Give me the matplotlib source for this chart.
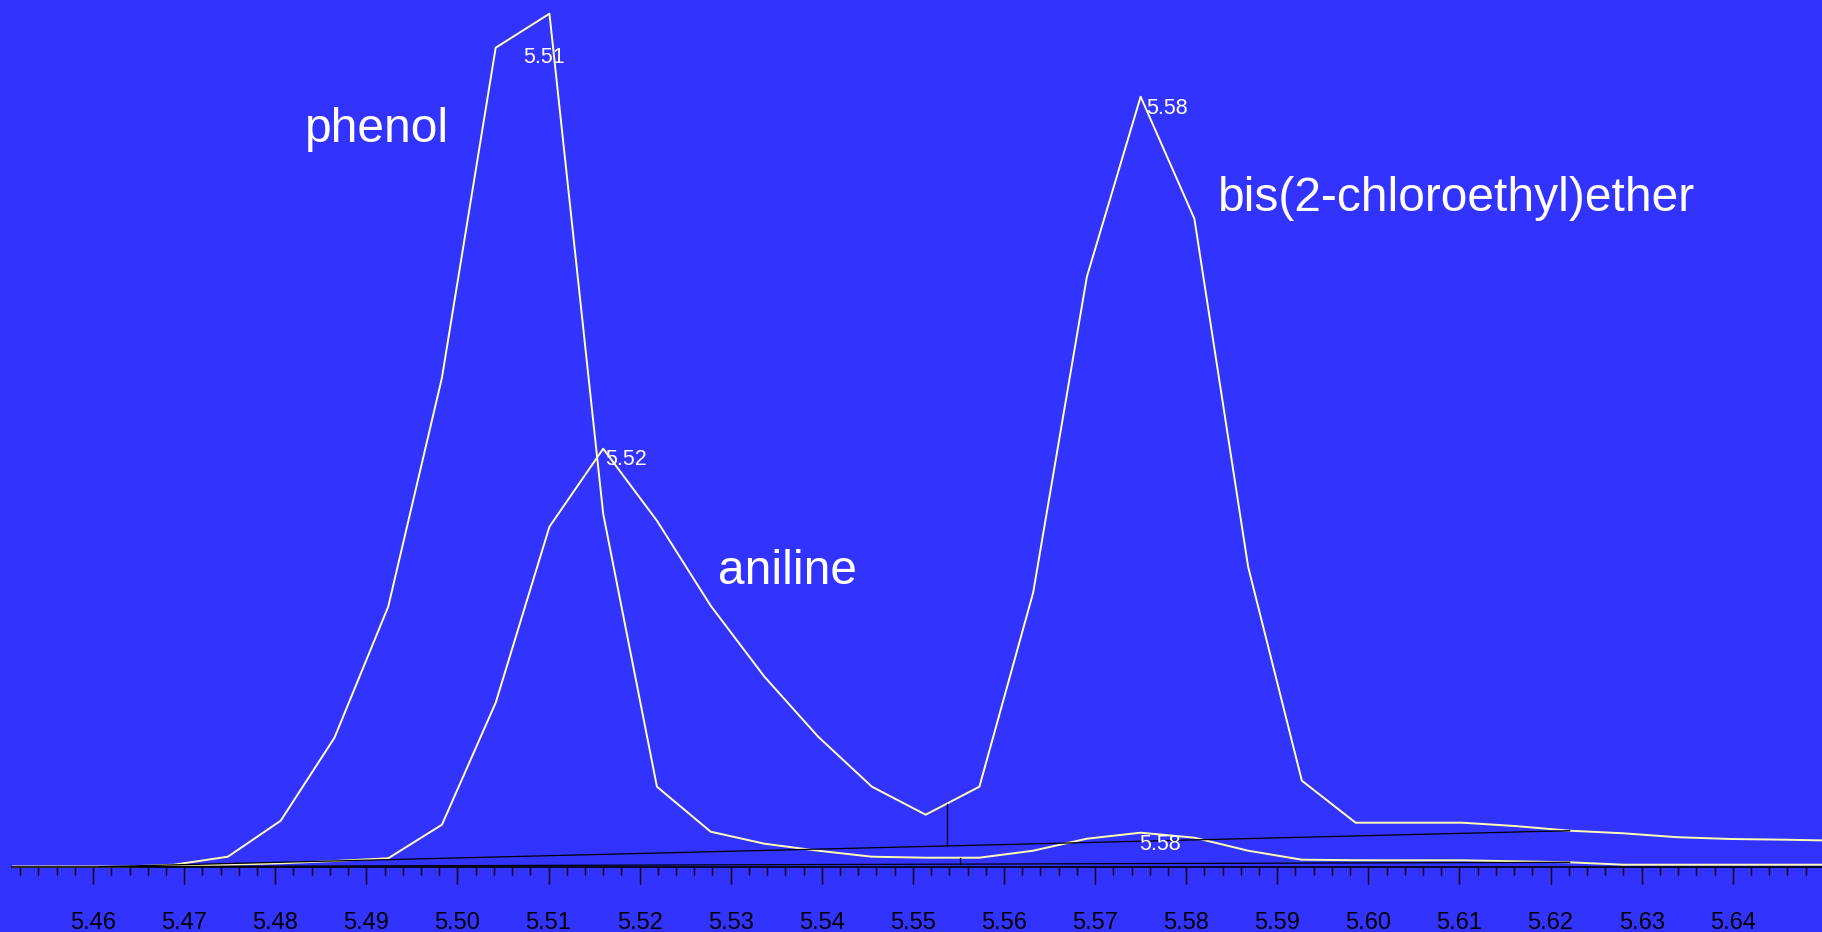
import numpy as np
import matplotlib
matplotlib.use("Agg")
import matplotlib.pyplot as plt
from matplotlib.ticker import MultipleLocator, FormatStrFormatter

# retention time (min) of each scan
times = [5.4512, 5.4571, 5.4630, 5.4689, 5.4748, 5.4806, 5.4865, 5.4924, 5.4983,
         5.5042, 5.5101, 5.5160, 5.5219, 5.5278, 5.5337, 5.5396, 5.5455, 5.5514,
         5.5573, 5.5632, 5.5691, 5.5750, 5.5809, 5.5868, 5.5927, 5.5986, 5.6044,
         5.6103, 5.6162, 5.6221, 5.6280, 5.6339, 5.6398, 5.6457, 5.6516]

# trace 1: phenol + small bump
trace_a = [0, 0, 0, 2, 10, 46, 129, 260, 489, 819, 853, 353, 80, 35, 23, 16, 10,
           9, 9, 16, 28, 34, 29, 16, 7, 6.5, 6.4, 6.4, 5.4, 4.4, 2, 2, 2, 2, 2]

# trace 2: aniline + bis(2-chloroethyl)ether
trace_b = [0, 0, 0, 1, 2, 3.4, 5.7, 8.4, 42, 164, 340, 418, 346, 261, 190, 130,
           80, 52, 80, 274, 590, 770, 648, 300, 86, 44, 44, 44, 40.6, 36, 33.4,
           29.5, 27.7, 27, 26]

# integration baselines (start / end) and valley drop lines
base_t = [5.4607, 5.6221]
base_a = [0, 4.4]
base_b = [0, 36]
split_a = 5.5552
split_b = 5.5537

# peak labels: text, trace, apex index, offset (px)
peak_text = ["5.51", "5.52", "5.58", "5.58"]
peak_trace = ["a", "b", "b", "a"]
peak_idx = [10, 11, 21, 21]
peak_off = [(-26, -49), (2, -16), (6, -17), (-1, -17)]

names = ["phenol", "aniline", "bis(2-chloroethyl)ether"]
name_t = [5.4833, 5.5286, 5.5835]
name_y = [725, 283, 656]

bg = "#3333ff"
line_col = "#ffffb4"

fig = plt.figure(figsize=(18.22, 9.32), dpi=100, facecolor=bg)
ax = fig.add_axes([12 / 1822, 65.3 / 932, 1 - 12 / 1822, 866.7 / 932])
ax.set_facecolor(bg)

ax.plot(times, trace_a, color=line_col, lw=1.4, clip_on=False, zorder=2)
ax.plot(times, trace_b, color=line_col, lw=1.4, clip_on=False, zorder=2)

ax.plot(base_t, base_a, color="black", lw=0.9, zorder=3)
ax.plot(base_t, base_b, color="black", lw=0.9, zorder=3)
for s, tr, bs in [(split_a, trace_a, base_a), (split_b, trace_b, base_b)]:
    top = np.interp(s, times, tr)
    bot = np.interp(s, base_t, bs)
    ax.plot([s, s], [bot, top], color="black", lw=0.9, zorder=3)

traces = {"a": trace_a, "b": trace_b}
for txt, tr, i, off in zip(peak_text, peak_trace, peak_idx, peak_off):
    ax.annotate(txt, (times[i], traces[tr][i]), xytext=off,
                textcoords="offset pixels", ha="left", va="baseline",
                color="white", fontsize=15.5, family="Liberation Sans", zorder=4)

for n, t, y in zip(names, name_t, name_y):
    ax.text(t, y, n, color="white", fontsize=34.5, family="Liberation Sans",
            ha="left", va="baseline")

ax.set_xlim(5.4511, 5.6498)
ax.set_ylim(0, 866.7)

for side in ["top", "left", "right"]:
    ax.spines[side].set_visible(False)
ax.spines["bottom"].set_color("black")
ax.spines["bottom"].set_linewidth(1.2)
ax.set_yticks([])

ax.xaxis.set_major_locator(MultipleLocator(0.01))
ax.xaxis.set_minor_locator(MultipleLocator(0.002))
ax.xaxis.set_major_formatter(FormatStrFormatter("%.2f"))
ax.tick_params(axis="x", which="major", length=12, width=1.0, color="black",
               pad=20.5, labelsize=17, labelcolor="black")
ax.tick_params(axis="x", which="minor", length=6, width=1.0, color="black")
for lbl in ax.get_xticklabels():
    lbl.set_family("Liberation Sans")

fig.savefig("out.png", dpi=100, facecolor=bg)
